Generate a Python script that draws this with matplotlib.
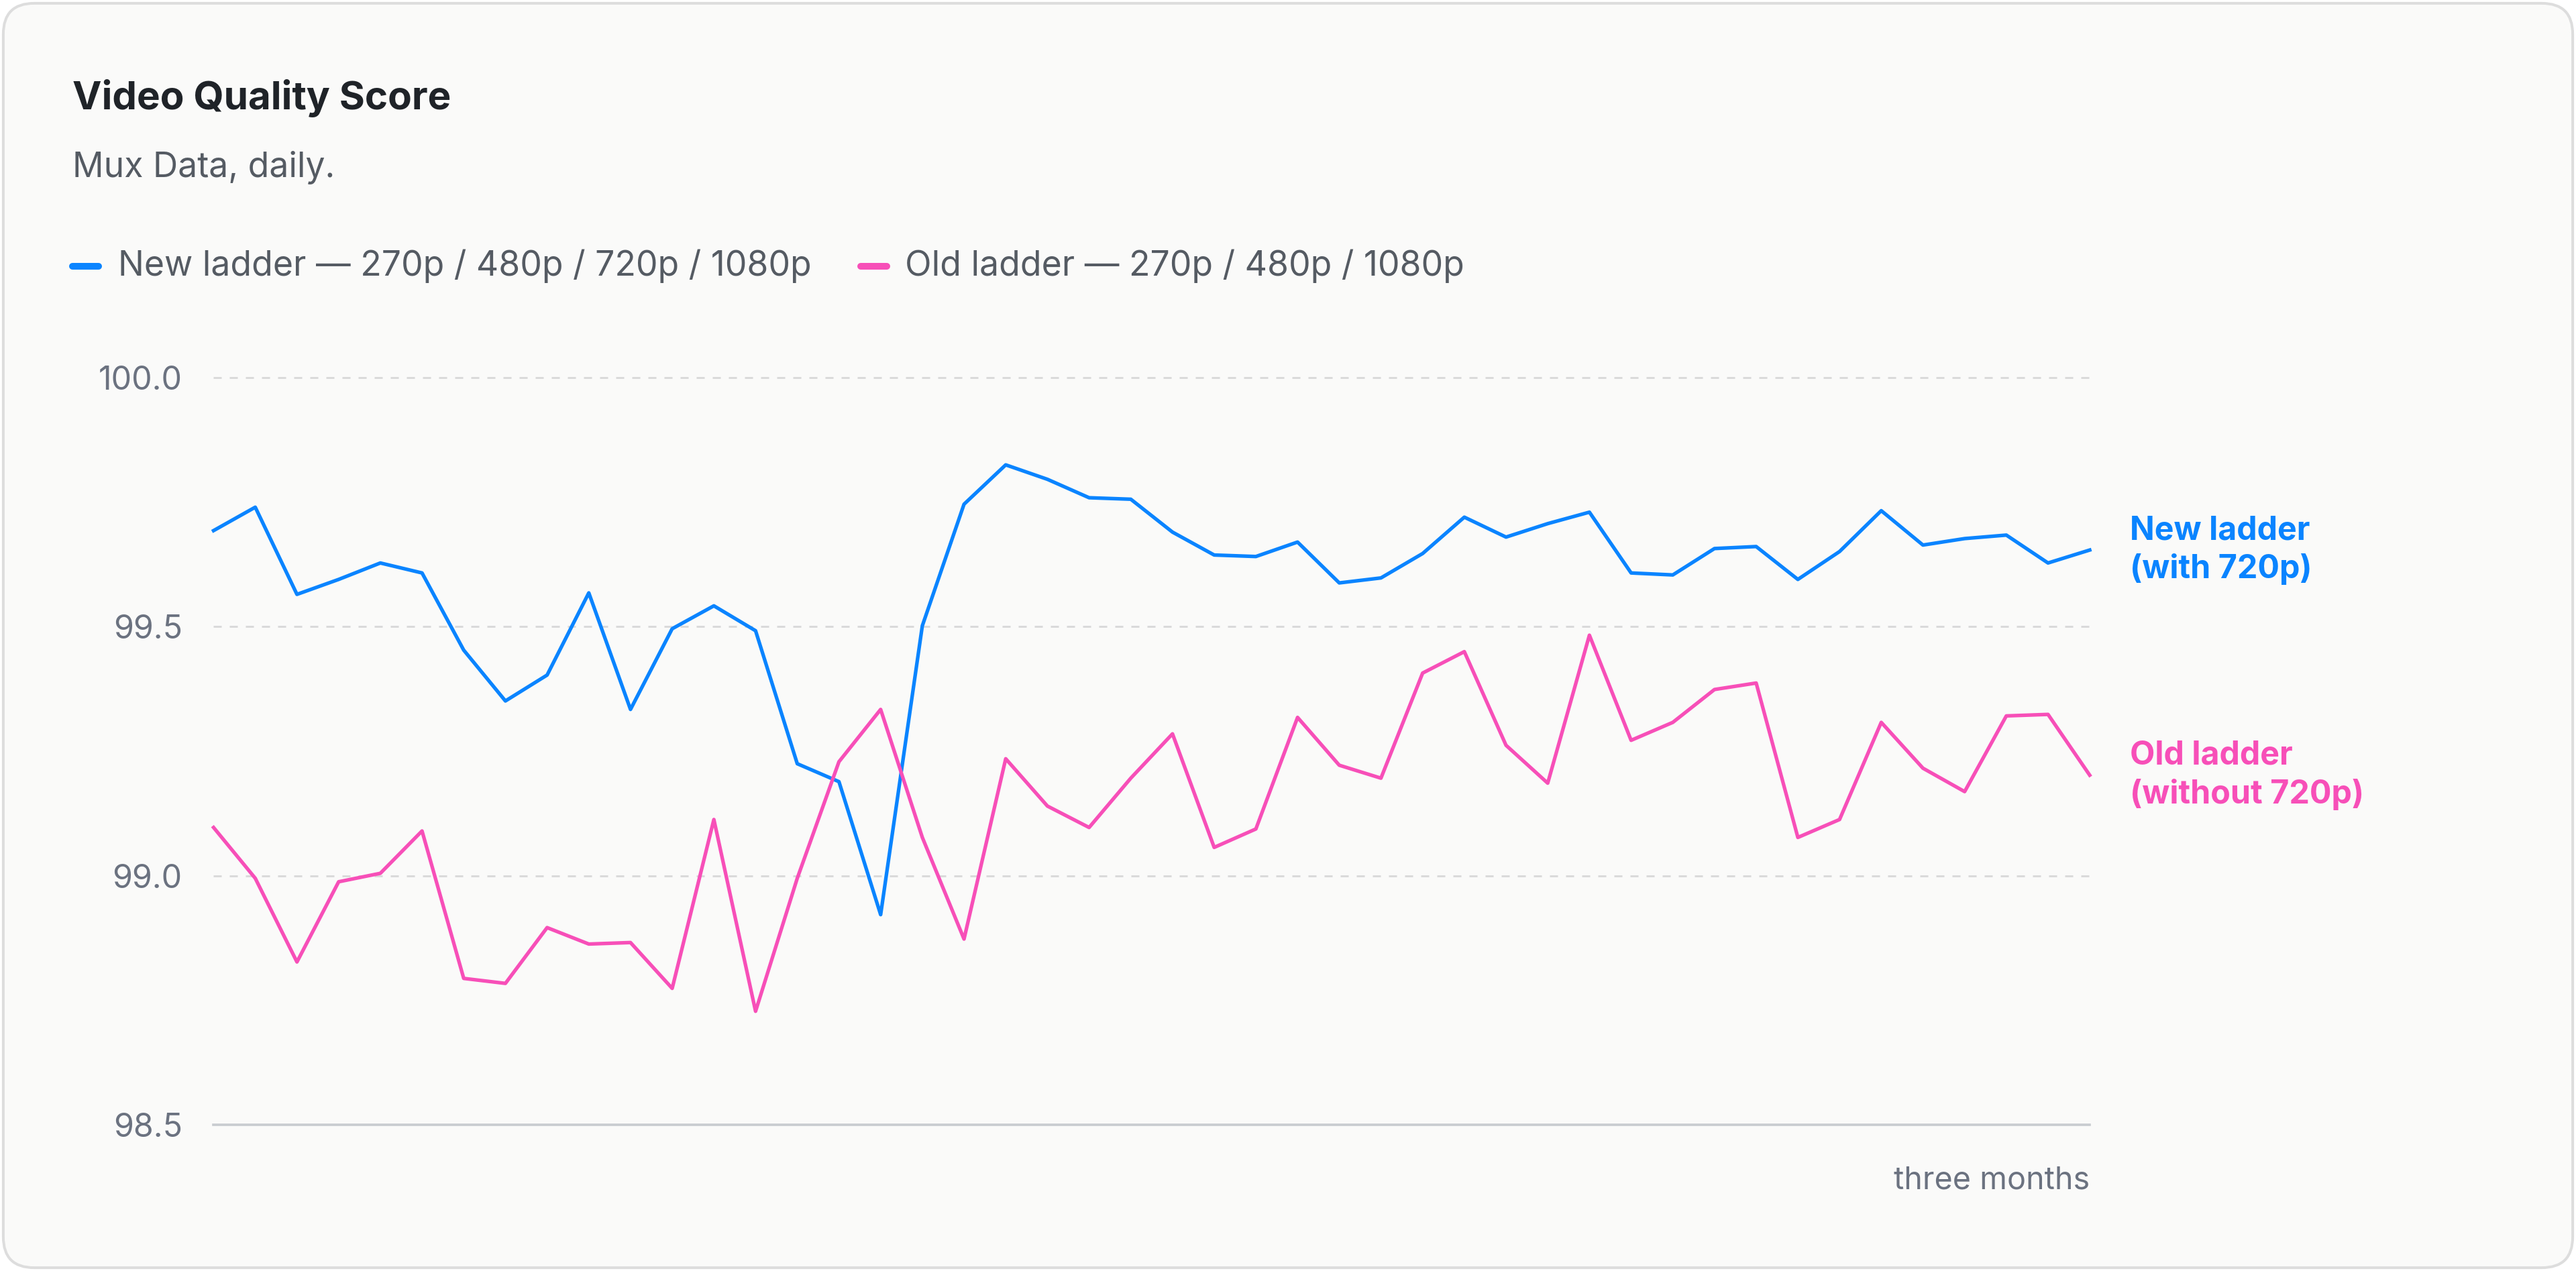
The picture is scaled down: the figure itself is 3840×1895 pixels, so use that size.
import matplotlib
matplotlib.use("Agg")
import matplotlib.pyplot as plt
from matplotlib.patches import FancyBboxPatch
from matplotlib.lines import Line2D

plt.rcParams['font.family'] = ['Inter', 'DejaVu Sans']

new_ladder = [99.693, 99.740, 99.565, 99.595, 99.628, 99.608, 99.453, 99.351, 99.403, 99.568,
              99.334, 99.496, 99.542, 99.492, 99.225, 99.189, 98.922, 99.502, 99.746, 99.825,
              99.796, 99.759, 99.756, 99.690, 99.644, 99.641, 99.670, 99.588, 99.598, 99.647,
              99.720, 99.680, 99.707, 99.730, 99.608, 99.604, 99.657, 99.661, 99.595, 99.651,
              99.733, 99.664, 99.677, 99.684, 99.628, 99.654]
old_ladder = [99.097, 98.995, 98.827, 98.988, 99.005, 99.090, 98.794, 98.784, 98.896, 98.863,
              98.866, 98.774, 99.113, 98.728, 98.995, 99.229, 99.334, 99.077, 98.873, 99.235,
              99.140, 99.097, 99.196, 99.285, 99.057, 99.094, 99.318, 99.222, 99.196, 99.407,
              99.450, 99.262, 99.186, 99.483, 99.272, 99.308, 99.374, 99.387, 99.077, 99.113,
              99.308, 99.216, 99.169, 99.321, 99.324, 99.202]
days = list(range(len(new_ladder)))
yticks = [98.5, 99.0, 99.5, 100.0]
ytick_labels = ["98.5", "99.0", "99.5", "100.0"]

BLUE = "#0A84FF"
PINK = "#F74FB8"
GRAY = "#6B7280"

W, H = 1568, 774
fig = plt.figure(figsize=(16, 16 * 1895 / 3840), dpi=240)
fig.patch.set_facecolor("white")
card = FancyBboxPatch((2 / W, 2 / H), 1 - 4 / W, 1 - 4 / H,
                      boxstyle="round,pad=0,rounding_size=0.012",
                      transform=fig.transFigure, facecolor="#FAFAF9",
                      edgecolor="#DDDDDD", linewidth=1.2, mutation_aspect=W / H,
                      zorder=-10)
fig.patches.append(card)

ax = fig.add_axes([130 / W, 1 - 685 / H, (1272 - 130) / W, (685 - 230) / H])
ax.set_zorder(1)
ax.set_facecolor("none")
ax.set_xlim(0, len(days) - 1)
ax.set_ylim(98.5, 100.0)
for s in ax.spines.values():
    s.set_visible(False)
for v in yticks[1:]:
    ax.axhline(v, color="#DADADA", lw=0.9, ls=(0, (4, 4)), zorder=0, clip_on=False)
ax.axhline(98.5, color="#C8CCD0", lw=1.1, zorder=0, clip_on=False)
ax.set_yticks(yticks)
ax.set_yticklabels(ytick_labels, color=GRAY, fontsize=14.5)
ax.tick_params(axis="y", length=0, pad=14)
ax.set_xticks([])

ax.plot(days, new_ladder, color=BLUE, lw=1.6, clip_on=False, solid_joinstyle="round")
ax.plot(days, old_ladder, color=PINK, lw=1.6, clip_on=False, solid_joinstyle="round")

ax.text(1.0, -0.075, "three months", transform=ax.transAxes, ha="right", va="center",
        color=GRAY, fontsize=14)
ax.annotate("New ladder\n(with 720p)", xy=(days[-1], new_ladder[-1]), xytext=(18, 0),
            textcoords="offset points", ha="left", va="center", color=BLUE,
            fontsize=14.5, fontweight="bold", annotation_clip=False, linespacing=1.3)
ax.annotate("Old ladder\n(without 720p)", xy=(days[-1], old_ladder[-1]), xytext=(18, 0),
            textcoords="offset points", ha="left", va="center", color=PINK,
            fontsize=14.5, fontweight="bold", annotation_clip=False, linespacing=1.3)

fig.text(44 / W, 1 - 60 / H, "Video Quality Score", fontsize=17.5, fontweight="bold",
         color="#1F2328", va="center")
fig.text(44 / W, 1 - 102 / H, "Mux Data, daily.", fontsize=15.5, color="#555B63", va="center")

ly = 1 - 162 / H
fig.add_artist(Line2D([44 / W, 60 / W], [ly, ly], color=BLUE, lw=3, solid_capstyle="round"))
fig.text(72 / W, ly, "New ladder — 270p / 480p / 720p / 1080p", fontsize=15.5,
         color="#555B63", va="center")
fig.add_artist(Line2D([524 / W, 540 / W], [ly, ly], color=PINK, lw=3, solid_capstyle="round"))
fig.text(551 / W, ly, "Old ladder — 270p / 480p / 1080p", fontsize=15.5,
         color="#555B63", va="center")

fig.savefig("out.png", dpi=240, facecolor="white")
